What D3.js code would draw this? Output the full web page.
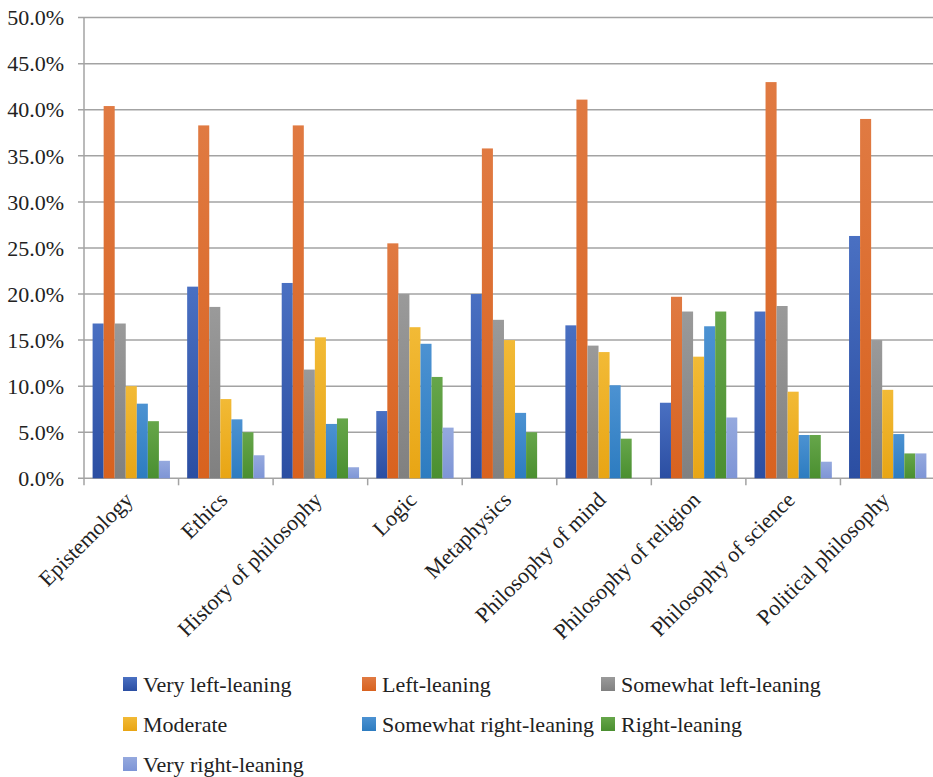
<!DOCTYPE html>
<html>
<head>
<meta charset="utf-8">
<script src="https://cdn.jsdelivr.net/npm/d3@7"></script>
<style>
  html, body { margin: 0; padding: 0; background: #fff; }
  svg { display: block; }
</style>
</head>
<body>
<div id="chart"></div>
<script>
const categories = ["Epistemology", "Ethics", "History of philosophy", "Logic", "Metaphysics",
  "Philosophy of mind", "Philosophy of religion", "Philosophy of science", "Political philosophy"];
const seriesNames = ["Very left-leaning", "Left-leaning", "Somewhat left-leaning", "Moderate",
  "Somewhat right-leaning", "Right-leaning", "Very right-leaning"];
const veryLeft      = [16.8, 20.8, 21.2, 7.3, 20.0, 16.6, 8.2, 18.1, 26.3];
const left          = [40.4, 38.3, 38.3, 25.5, 35.8, 41.1, 19.7, 43.0, 39.0];
const somewhatLeft  = [16.8, 18.6, 11.8, 20.0, 17.2, 14.4, 18.1, 18.7, 15.0];
const moderate      = [10.0, 8.6, 15.3, 16.4, 15.0, 13.7, 13.2, 9.4, 9.6];
const somewhatRight = [8.1, 6.4, 5.9, 14.6, 7.1, 10.1, 16.5, 4.7, 4.8];
const right         = [6.2, 5.0, 6.5, 11.0, 5.0, 4.3, 18.1, 4.7, 2.7];
const veryRight     = [1.9, 2.5, 1.2, 5.5, 0.0, 0.0, 6.6, 1.8, 2.7];
const yTicks = [0, 5, 10, 15, 20, 25, 30, 35, 40, 45, 50];

const seriesValues = [veryLeft, left, somewhatLeft, moderate, somewhatRight, right, veryRight];
const colorsTop    = ["#4a70c2", "#e07a42", "#9a9a9a", "#f2ba36", "#4c92d2", "#66a64a", "#95a9de"];
const colorsBottom = ["#2b4ea2", "#d8621f", "#808080", "#e8a514", "#2d7cc0", "#4a8f30", "#7e95d6"];
const FONT = "'Liberation Serif', 'Times New Roman', serif";

const W = 933, H = 777;
const svg = d3.select("#chart").append("svg").attr("width", W).attr("height", H);

const defs = svg.append("defs");
seriesNames.forEach((s, i) => {
  const g = defs.append("linearGradient").attr("id", "grad" + i)
    .attr("x1", 0).attr("y1", 0).attr("x2", 0).attr("y2", 1);
  g.append("stop").attr("offset", "0%").attr("stop-color", colorsTop[i]);
  g.append("stop").attr("offset", "100%").attr("stop-color", colorsBottom[i]);
});

const x0 = d3.scaleBand().domain(categories).range([84, 935]).padding(0);
const x1 = d3.scaleBand().domain(seriesNames).range([8.6, x0.bandwidth() - 8.6]).padding(0);
const y = d3.scaleLinear().domain([0, 50]).range([478.3, 17.6]);

// gridlines
svg.append("g").selectAll("line").data(yTicks).join("line")
  .attr("x1", 78).attr("x2", 935)
  .attr("y1", d => y(d)).attr("y2", d => y(d))
  .attr("stroke", "#a3a3a3").attr("stroke-width", 1.5);

// y axis line
svg.append("line").attr("x1", 84).attr("x2", 84).attr("y1", y(50)).attr("y2", y(0) + 7)
  .attr("stroke", "#a3a3a3").attr("stroke-width", 1.5);

// y tick labels
svg.append("g").selectAll("text").data(yTicks).join("text")
  .attr("x", 64).attr("y", d => y(d)).attr("dy", "0.35em")
  .attr("text-anchor", "end")
  .style("font-family", FONT).attr("font-size", 22).attr("fill", "#222")
  .text(d => d.toFixed(1) + "%");

// x category ticks
const bounds = categories.map(c => x0(c)).concat([x0.range()[1]]);
svg.append("g").selectAll("line").data(bounds.slice(1)).join("line")
  .attr("x1", d => d).attr("x2", d => d).attr("y1", y(0)).attr("y2", y(0) + 7)
  .attr("stroke", "#a3a3a3").attr("stroke-width", 1.5);

// bars
const groups = svg.append("g").selectAll("g").data(categories).join("g")
  .attr("transform", c => `translate(${x0(c)},0)`);
groups.selectAll("rect")
  .data((c, ci) => seriesNames.map((s, si) => ({ s, si, v: seriesValues[si][ci] })))
  .join("rect")
  .filter(d => d.v > 0)
  .attr("x", d => x1(d.s)).attr("width", x1.bandwidth())
  .attr("y", d => y(d.v)).attr("height", d => y(0) - y(d.v))
  .attr("fill", d => `url(#grad${d.si})`);

// x labels
svg.append("g").selectAll("text").data(categories).join("text")
  .attr("transform", c => `translate(${x0(c) + x0.bandwidth() / 2 + 3},${y(0) + 23}) rotate(-45)`)
  .attr("text-anchor", "end")
  .style("font-family", FONT).attr("font-size", 22).attr("fill", "#222")
  .text(c => c);

// legend
const legCols = [123, 362, 601];
const legRows = [684, 724, 764];
const leg = svg.append("g").selectAll("g").data(seriesNames).join("g")
  .attr("transform", (s, i) => `translate(${legCols[i % 3]},${legRows[Math.floor(i / 3)]})`);
leg.append("rect").attr("x", 0).attr("y", -7).attr("width", 14).attr("height", 14)
  .attr("fill", (s, i) => `url(#grad${i})`);
leg.append("text").attr("x", 20).attr("y", 0).attr("dy", "0.35em")
  .style("font-family", FONT).attr("font-size", 22).attr("fill", "#222")
  .text(s => s);
</script>
</body>
</html>
